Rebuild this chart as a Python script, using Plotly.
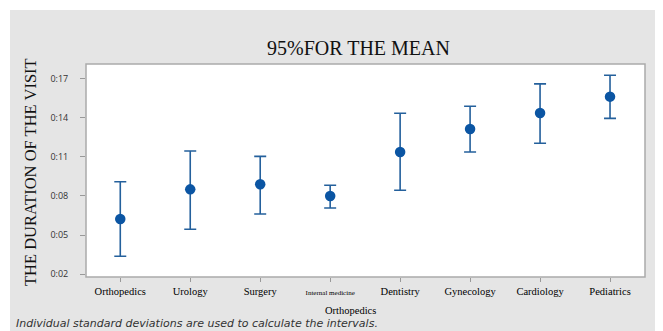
import plotly.graph_objects as go

categories = ["Orthopedics", "Urology", "Surgery", "Internal medicine",
              "Dentistry", "Gynecology", "Cardiology", "Pediatrics"]
means = [6.23, 8.51, 8.90, 8.00, 11.38, 13.15, 14.38, 15.64]
upper = [9.10, 11.46, 11.05, 8.82, 14.36, 14.90, 16.62, 17.28]
lower = [3.36, 5.44, 6.62, 7.08, 8.44, 11.38, 12.05, 13.97]
ytick_vals = [2, 5, 8, 11, 14, 17]
ytick_text = ["0:02", "0:05", "0:08", "0:11", "0:14", "0:17"]

# page body has an 8px margin: build the figure 8px smaller and offset
OFF = 8
W, H = 663 - OFF, 331 - OFF
L, R, T, B = 86 - OFF, 18, 64 - OFF, 54
pw, ph = W - L - R, H - T - B

def px(x):
    return (x - OFF - L) / pw

def py(y):
    return (H - B - (y - OFF)) / ph

xpos = list(range(len(categories)))
ticktext = [("<span style='font-size:7px'>" + c + "</span>") if c == "Internal medicine" else c
            for c in categories]

fig = go.Figure()
fig.add_trace(go.Scatter(
    x=xpos, y=means, mode="markers",
    marker=dict(color="#0b55a3", size=10.5),
    error_y=dict(type="data", symmetric=False,
                 array=[u - m for u, m in zip(upper, means)],
                 arrayminus=[m - l for m, l in zip(means, lower)],
                 color="#24609c", thickness=1.6, width=6),
    showlegend=False, hoverinfo="skip",
))

serif = "Liberation Serif, Times New Roman, serif"
fig.update_layout(
    width=W, height=H,
    margin=dict(l=L, r=R, t=T, b=B),
    paper_bgcolor="white", plot_bgcolor="rgba(0,0,0,0)",
    shapes=[
        dict(type="rect", xref="paper", yref="paper", layer="below",
             x0=px(10), x1=px(680), y0=py(345), y1=py(10),
             fillcolor="#e5e5e5", line=dict(width=0)),
        dict(type="rect", xref="paper", yref="paper", layer="below",
             x0=0, x1=1, y0=0, y1=1,
             fillcolor="white", line=dict(color="#ababab", width=1.5)),
    ],
    xaxis=dict(range=[-0.49, 7.5], tickvals=xpos, ticktext=ticktext,
               showgrid=False, zeroline=False, showline=False,
               ticks="outside", ticklen=4, tickcolor="#999999",
               tickfont=dict(family=serif, size=10.5, color="#000000")),
    yaxis=dict(range=[1.77, 18.15], tickvals=ytick_vals, ticktext=ytick_text,
               showgrid=False, zeroline=False, showline=False,
               ticks="outside", ticklen=5, tickcolor="#999999",
               ticklabelstandoff=10,
               tickfont=dict(family="Open Sans, DejaVu Sans, sans-serif", size=9, color="#333333")),
    annotations=[
        dict(text="95%FOR THE MEAN", xref="paper", yref="paper",
             x=px(358), y=py(48), showarrow=False, xanchor="center", yanchor="middle",
             font=dict(family=serif, size=20, color="#111111")),
        dict(text="THE DURATION OF THE VISIT", xref="paper", yref="paper",
             x=px(30), y=py(172), showarrow=False, textangle=-90,
             xanchor="center", yanchor="middle",
             font=dict(family=serif, size=16.5, color="#111111")),
        dict(text="Orthopedics", xref="paper", yref="paper",
             x=px(350), y=py(310), showarrow=False, xanchor="center", yanchor="middle",
             font=dict(family=serif, size=10.5, color="#000000")),
        dict(text="<i>Individual standard deviations are used to calculate the intervals.</i>",
             xref="paper", yref="paper",
             x=px(14), y=py(323), showarrow=False, xanchor="left", yanchor="middle",
             font=dict(family="DejaVu Sans, sans-serif", size=11, color="#333333")),
    ],
)

fig.write_html("out.html")
